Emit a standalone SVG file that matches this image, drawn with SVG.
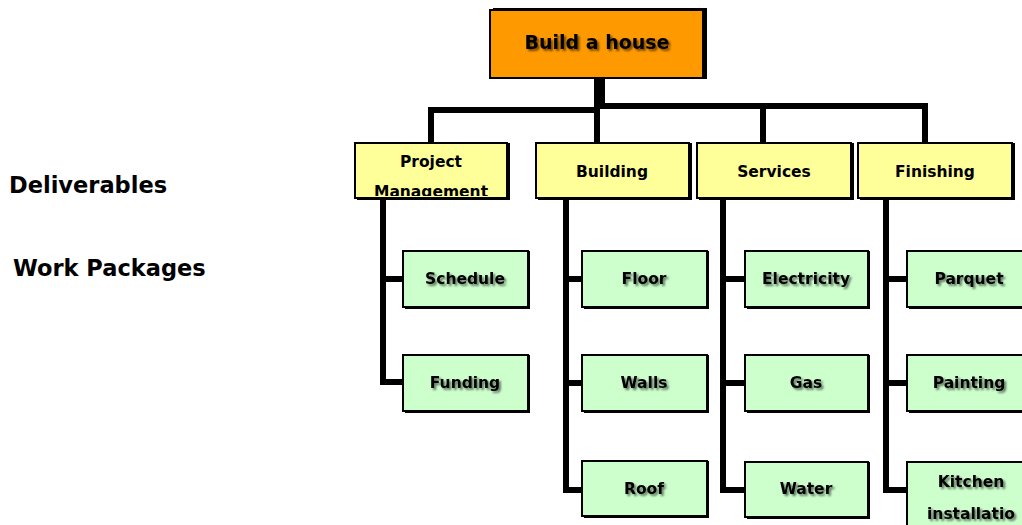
<svg xmlns="http://www.w3.org/2000/svg" width="1022" height="525" viewBox="0 0 1022 525">
<style>
text{font-family:"DejaVu Sans","Liberation Sans",sans-serif;font-weight:bold;fill:#000;text-anchor:middle}
.lbl{text-anchor:start;font-size:22.5px}
.top{fill:#FF9900;stroke:#000;stroke-width:2}
.del{fill:#FFFF99;stroke:#000;stroke-width:2}
.wp{fill:#CCFFCC;stroke:#000;stroke-width:2}
.sh{fill:#000}
.t{font-size:15.5px}
.tt{font-size:19px}
.c{fill:none;stroke:#000;stroke-width:6;stroke-linejoin:miter}
.ts{filter:url(#tsh)}
</style>
<defs>
<filter id="tsh" x="-10%" y="-30%" width="130%" height="170%">
<feGaussianBlur in="SourceAlpha" stdDeviation="1.2"/>
<feOffset dx="1.5" dy="1.5" result="b"/>
<feComponentTransfer><feFuncA type="linear" slope="0.55"/></feComponentTransfer>
<feMerge><feMergeNode/><feMergeNode in="SourceGraphic"/></feMerge>
</filter>
<clipPath id="pmclip"><rect x="356" y="144" width="151" height="52"/></clipPath>
</defs>
<rect width="1022" height="525" fill="#fff"/>
<g id="connectors">
<path class="c" d="M431,143 V110 H597 V78"/>
<path class="c" d="M597,78 V143"/>
<path class="c" d="M602,78 V106 H925 V143"/>
<path class="c" d="M763,106 V143"/>
<path class="c" d="M383,198 V382 H404 M383,279 H404"/>
<path class="c" d="M566,198 V490 H583 M566,279 H583 M566,383 H583"/>
<path class="c" d="M723,198 V490 H746 M723,279 H746 M723,383 H746"/>
<path class="c" d="M886,198 V490 H908 M886,279 H908 M886,383 H908"/>
</g>
<g id="labels">
<text class="lbl" x="9" y="193">Deliverables</text>
<text class="lbl" x="13" y="276">Work Packages</text>
</g>
<g id="root">
<rect class="sh" x="493" y="8" width="214" height="71"/>
<rect class="top" x="490" y="10" width="213" height="68"/>
<text class="tt ts" x="597" y="49">Build a house</text>
</g>
<g id="pm">
<rect class="sh" x="357" y="143" width="153" height="57"/>
<rect class="del" x="355" y="143" width="152" height="55"/>
<g clip-path="url(#pmclip)">
<text class="t" x="431" y="167">Project</text>
<text class="t" x="431" y="197">Management</text>
</g>
</g>
<g id="building">
<rect class="sh" x="538" y="143" width="154" height="57"/>
<rect class="del" x="536" y="143" width="153" height="55"/>
<text class="t" x="612" y="177">Building</text>
</g>
<g id="services">
<rect class="sh" x="699" y="143" width="155" height="57"/>
<rect class="del" x="697" y="143" width="154" height="55"/>
<text class="t" x="774" y="177">Services</text>
</g>
<g id="finishing">
<rect class="sh" x="860" y="143" width="155" height="57"/>
<rect class="del" x="858" y="143" width="154" height="55"/>
<text class="t" x="935" y="177">Finishing</text>
</g>
<g id="schedule">
<rect class="sh" x="405" y="251" width="125" height="58"/>
<rect class="wp" x="403" y="251" width="125" height="56"/>
<text class="t ts" x="465" y="284">Schedule</text>
</g>
<g id="funding">
<rect class="sh" x="405" y="355" width="125" height="58"/>
<rect class="wp" x="403" y="355" width="125" height="56"/>
<text class="t ts" x="465" y="388">Funding</text>
</g>
<g id="floor">
<rect class="sh" x="584" y="251" width="125" height="58"/>
<rect class="wp" x="582" y="251" width="125" height="56"/>
<text class="t ts" x="644" y="284">Floor</text>
</g>
<g id="walls">
<rect class="sh" x="584" y="355" width="125" height="58"/>
<rect class="wp" x="582" y="355" width="125" height="56"/>
<text class="t ts" x="644" y="388">Walls</text>
</g>
<g id="roof">
<rect class="sh" x="584" y="461" width="125" height="57"/>
<rect class="wp" x="582" y="461" width="125" height="55"/>
<text class="t ts" x="644" y="494">Roof</text>
</g>
<g id="electricity">
<rect class="sh" x="747" y="251" width="123" height="58"/>
<rect class="wp" x="745" y="251" width="123" height="56"/>
<text class="t ts" x="806" y="284">Electricity</text>
</g>
<g id="gas">
<rect class="sh" x="747" y="355" width="123" height="58"/>
<rect class="wp" x="745" y="355" width="123" height="56"/>
<text class="t ts" x="806" y="388">Gas</text>
</g>
<g id="water">
<rect class="sh" x="747" y="462" width="123" height="57"/>
<rect class="wp" x="745" y="462" width="123" height="55"/>
<text class="t ts" x="806" y="494">Water</text>
</g>
<g id="parquet">
<rect class="sh" x="909" y="251" width="125" height="58"/>
<rect class="wp" x="907" y="251" width="125" height="56"/>
<text class="t ts" x="969" y="284">Parquet</text>
</g>
<g id="painting">
<rect class="sh" x="909" y="355" width="125" height="58"/>
<rect class="wp" x="907" y="355" width="125" height="56"/>
<text class="t ts" x="969" y="388">Painting</text>
</g>
<g id="kitchen">
<rect class="sh" x="909" y="462" width="125" height="70"/>
<rect class="wp" x="907" y="462" width="125" height="70"/>
<text class="t ts" x="971" y="487">Kitchen</text>
<text class="t ts" x="971" y="519">installatio</text>
</g>
</svg>
